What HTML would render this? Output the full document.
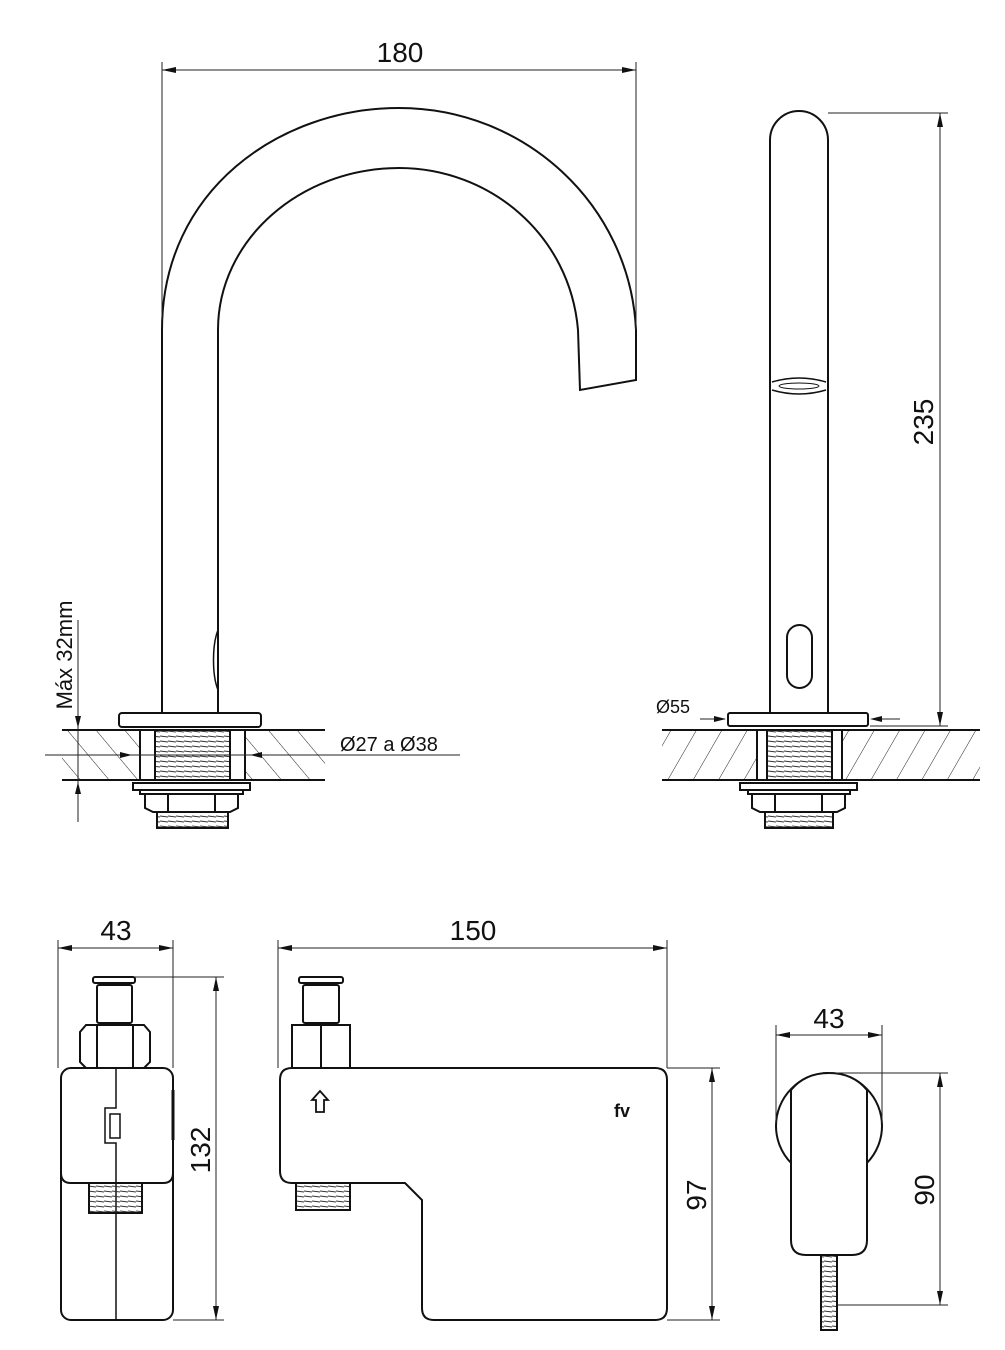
<!DOCTYPE html>
<html><head><style>html,body{margin:0;background:#fff}svg{display:block}text{font-family:"Liberation Sans",sans-serif;fill:#111}</style></head><body>
<svg width="1005" height="1350" viewBox="0 0 1005 1350" xmlns="http://www.w3.org/2000/svg">
<defs>
<pattern id="h" width="22" height="22" patternUnits="userSpaceOnUse" patternTransform="rotate(30)"><line x1="0" y1="0" x2="0" y2="22" stroke="#222" stroke-width="1"/></pattern>
<pattern id="h2" width="22" height="22" patternUnits="userSpaceOnUse" patternTransform="rotate(-40)"><line x1="0" y1="0" x2="0" y2="22" stroke="#222" stroke-width="1"/></pattern>
<pattern id="t" width="8" height="5" patternUnits="userSpaceOnUse"><line x1="0" y1="1" x2="8" y2="2" stroke="#333" stroke-width="1"/></pattern>
</defs>
<g fill="none" stroke="#111" stroke-width="2">
<path d="M162,713 L162,330 C162,190 280,108 399,108 C525,108 630,205 636,330 L636,380 L580,390 L578,330 C570,235 490,168 399,168 C300,168 218,240 218,330 L218,713"/>
<path d="M218,630 C212,645 212,675 218,690" stroke-width="1.5"/>
<rect x="119" y="713" width="142" height="14" rx="3"/>
<rect x="62" y="730" width="263" height="50" fill="url(#h2)" stroke="none"/>
<line x1="62" y1="730" x2="325" y2="730"/><line x1="62" y1="780" x2="325" y2="780"/>
<rect x="140" y="730" width="105" height="50" fill="#fff"/>
<rect x="155" y="730" width="75" height="50" fill="url(#t)"/>
<rect x="133" y="783" width="117" height="7"/>
<rect x="140" y="790" width="103" height="4"/>
<path d="M145,794 H238 V808 L230,812 H153 L145,808 Z"/>
<line x1="168" y1="794" x2="168" y2="812"/><line x1="215" y1="794" x2="215" y2="812"/>
<rect x="157" y="812" width="71" height="16" fill="url(#t)"/>
<path d="M770,713 L770,140 A29,29 0 0 1 828,140 L828,713"/>
<path d="M772,382 Q799,374 826,382 M772,390 Q799,398 826,390" stroke-width="1.5"/>
<ellipse cx="799" cy="386" rx="20" ry="3" stroke-width="1"/>
<rect x="787" y="625" width="25" height="63" rx="12.5"/>
<rect x="728" y="713" width="140" height="13" rx="2"/>
<rect x="662" y="730" width="318" height="50" fill="url(#h)" stroke="none"/>
<line x1="662" y1="730" x2="980" y2="730"/><line x1="662" y1="780" x2="980" y2="780"/>
<rect x="757" y="730" width="85" height="50" fill="#fff"/>
<rect x="767" y="730" width="65" height="50" fill="url(#t)"/>
<rect x="740" y="783" width="117" height="7"/>
<rect x="748" y="790" width="102" height="4"/>
<path d="M752,794 H845 V808 L837,812 H760 L752,808 Z"/>
<line x1="775" y1="794" x2="775" y2="812"/><line x1="822" y1="794" x2="822" y2="812"/>
<rect x="765" y="812" width="68" height="16" fill="url(#t)"/>
<!-- bottom left -->
<rect x="61" y="1068" width="112" height="252" rx="10"/>
<path d="M61,1173 Q61,1183 71,1183 H163 Q173,1183 173,1173"/>
<path d="M116,1068 V1108 H105 V1143 H116 V1320" stroke-width="1.5"/>
<rect x="110" y="1114" width="10" height="24" stroke-width="1.5"/>
<path d="M86,1025 H144 L150,1032 V1062 L144,1068 H86 L80,1062 V1032 Z"/>
<line x1="97" y1="1025" x2="97" y2="1068"/><line x1="133" y1="1025" x2="133" y2="1068"/>
<rect x="97" y="985" width="35" height="38" rx="2"/>
<rect x="93" y="977" width="42" height="6" rx="2"/>
<rect x="89" y="1183" width="53" height="30" fill="url(#t)"/>
<line x1="173" y1="1090" x2="173" y2="1140" stroke-width="3"/>
<!-- bottom middle -->
<path d="M280,1080 Q280,1068 292,1068 L655,1068 Q667,1068 667,1080 L667,1308 Q667,1320 655,1320 L434,1320 Q422,1320 422,1308 L422,1200 L405,1183 L292,1183 Q280,1183 280,1171 Z"/>
<path d="M292,1025 H350 V1068 H292 Z"/><line x1="321" y1="1025" x2="321" y2="1068"/>
<rect x="303" y="985" width="36" height="38" rx="2"/>
<rect x="299" y="977" width="44" height="6" rx="2"/>
<rect x="296" y="1183" width="54" height="27" fill="url(#t)"/>
<path d="M316,1112 V1100 H312 L320,1091 L328,1100 H324 V1112 Z" stroke-width="1.8"/>
<!-- bottom right -->
<circle cx="829" cy="1126" r="53"/>
<path d="M791,1163 V1090 Q805,1073 829,1073 Q853,1073 867,1090 V1240 Q867,1255 852,1255 H806 Q791,1255 791,1240 Z" fill="#fff"/>
<rect x="821" y="1255" width="16" height="75" fill="url(#t)"/>
</g>
<text x="614" y="1117" font-size="18" font-weight="bold">fv</text>
<g stroke="#222" stroke-width="1" fill="none">
<line x1="162" y1="62" x2="162" y2="320"/><line x1="636" y1="62" x2="636" y2="330"/><line x1="162" y1="70" x2="636" y2="70"/>
<line x1="828" y1="113" x2="948" y2="113"/><line x1="870" y1="726" x2="948" y2="726"/><line x1="940" y1="113" x2="940" y2="726"/>
<line x1="78" y1="620" x2="78" y2="822"/><line x1="45" y1="755" x2="460" y2="755"/>
<line x1="700" y1="719" x2="725" y2="719"/><line x1="872" y1="719" x2="900" y2="719"/>
<line x1="58" y1="940" x2="58" y2="1068"/><line x1="173" y1="940" x2="173" y2="1068"/><line x1="58" y1="948" x2="173" y2="948"/>
<line x1="135" y1="977" x2="224" y2="977"/><line x1="173" y1="1320" x2="224" y2="1320"/><line x1="216" y1="977" x2="216" y2="1320"/>
<line x1="278" y1="940" x2="278" y2="1068"/><line x1="667" y1="940" x2="667" y2="1068"/><line x1="278" y1="948" x2="667" y2="948"/>
<line x1="667" y1="1068" x2="720" y2="1068"/><line x1="667" y1="1320" x2="720" y2="1320"/><line x1="712" y1="1068" x2="712" y2="1320"/>
<line x1="776" y1="1025" x2="776" y2="1123"/><line x1="882" y1="1025" x2="882" y2="1123"/><line x1="776" y1="1035" x2="882" y2="1035"/>
<line x1="829" y1="1073" x2="948" y2="1073"/><line x1="837" y1="1305" x2="948" y2="1305"/><line x1="940" y1="1073" x2="940" y2="1305"/>
</g>
<g fill="#111">
<path d="M162,70 l14,-3 v6z M636,70 l-14,-3 v6z"/>
<path d="M940,113 l-3,14 h6z M940,726 l-3,-14 h6z"/>
<path d="M78,728 l-3,-12 h6z M78,782 l-3,12 h6z"/>
<path d="M132,755 l-12,-3 v6z M250,755 l12,-3 v6z"/>
<path d="M726,719 l-12,-3 v6z M870,719 l12,-3 v6z"/>
<path d="M58,948 l14,-3 v6z M173,948 l-14,-3 v6z"/>
<path d="M216,977 l-3,14 h6z M216,1320 l-3,-14 h6z"/>
<path d="M278,948 l14,-3 v6z M667,948 l-14,-3 v6z"/>
<path d="M712,1068 l-3,14 h6z M712,1320 l-3,-14 h6z"/>
<path d="M776,1035 l14,-3 v6z M882,1035 l-14,-3 v6z"/>
<path d="M940,1073 l-3,14 h6z M940,1305 l-3,-14 h6z"/>
</g>
<text x="400" y="62" font-size="28" text-anchor="middle">180</text>
<text transform="translate(933,422) rotate(-90)" font-size="28" text-anchor="middle">235</text>
<text transform="translate(72,655) rotate(-90)" font-size="22" text-anchor="middle">Máx 32mm</text>
<text x="340" y="751" font-size="20">Ø27 a Ø38</text>
<text x="656" y="713" font-size="18">Ø55</text>
<text x="116" y="940" font-size="28" text-anchor="middle">43</text>
<text transform="translate(210,1150) rotate(-90)" font-size="28" text-anchor="middle">132</text>
<text x="473" y="940" font-size="28" text-anchor="middle">150</text>
<text transform="translate(706,1195) rotate(-90)" font-size="28" text-anchor="middle">97</text>
<text x="829" y="1028" font-size="28" text-anchor="middle">43</text>
<text transform="translate(934,1190) rotate(-90)" font-size="28" text-anchor="middle">90</text>
</svg>
</body></html>
